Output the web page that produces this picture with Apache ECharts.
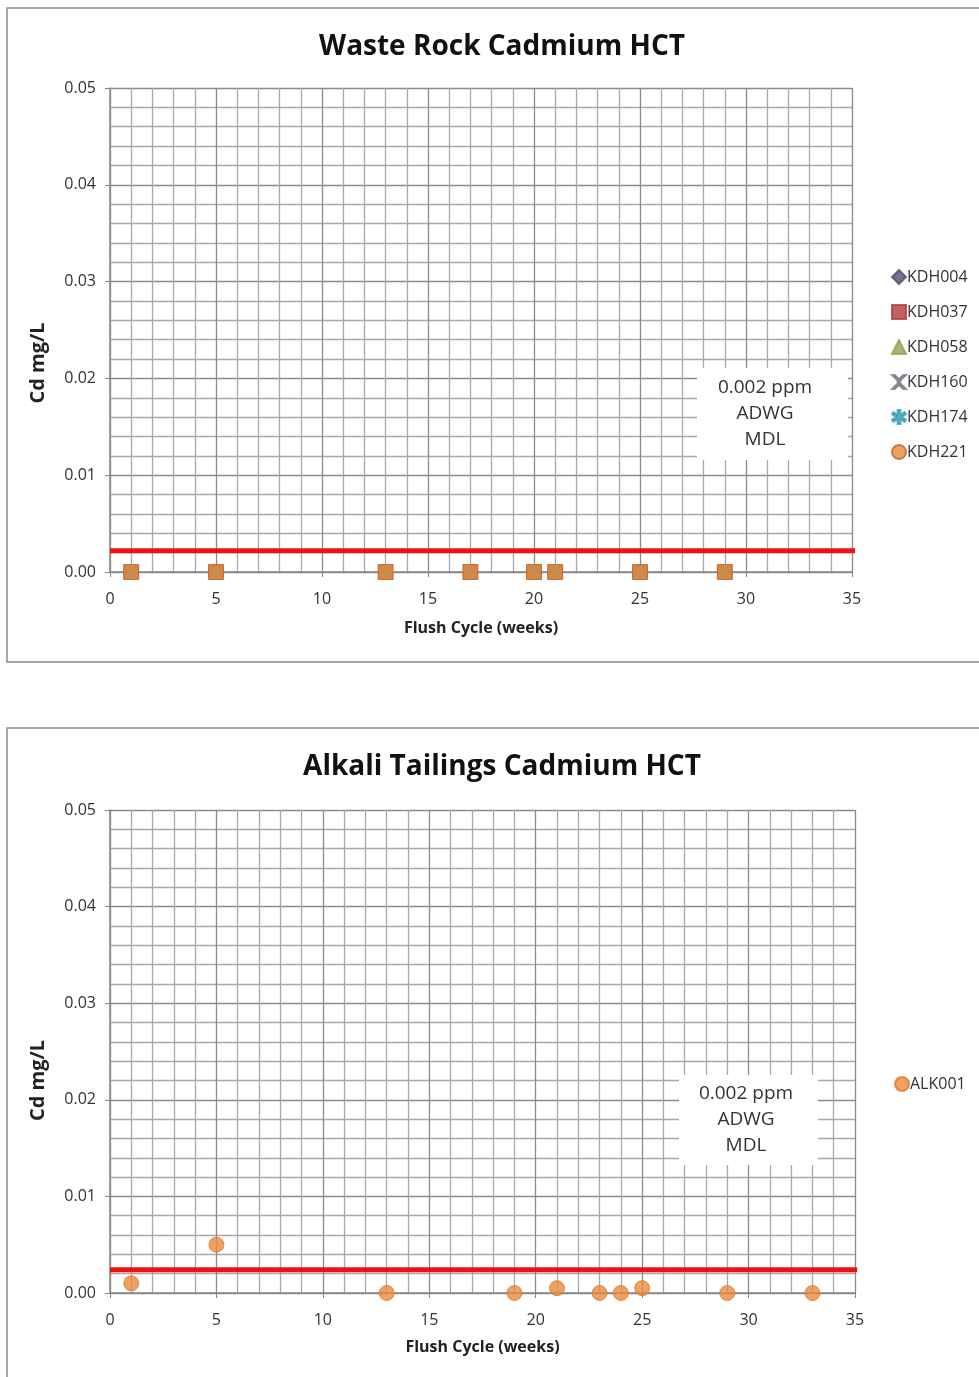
<!DOCTYPE html>
<html>
<head>
<meta charset="utf-8">
<script src="https://cdn.jsdelivr.net/npm/echarts@6/dist/echarts.min.js"></script>
<style>
  html, body { margin: 0; padding: 0; background: #fff; }
  #hct-charts { width: 979px; height: 1377px; }
</style>
</head>
<body>
<div id="hct-charts"></div>
<script>
// waste rock samples (all read at 0 mg/L)
var wasteWeeks = [1, 5, 13, 17, 20, 21, 25, 29];
var wasteValues = [0, 0, 0, 0, 0, 0, 0, 0];
var wasteNames = ["KDH004", "KDH037", "KDH058", "KDH160", "KDH174", "KDH221"];

// alkali tailings
var alkWeeks = [1, 5, 13, 19, 21, 23, 24, 25, 29, 33];
var alkValues = [0.001, 0.005, 0, 0, 0.0005, 0, 0, 0.0005, 0, 0];

// ADWG MDL reference line as drawn
var mdlTop = [[0, 0.0022], [35.3, 0.0022]];
var mdlBottom = [[0, 0.0024], [35.1, 0.0024]];

var xTicks = [0, 5, 10, 15, 20, 25, 30, 35];

var font = "Open Sans";
var xPath = "path://M0,0 L2,0 L5,3 L8,0 L10,0 L6,4 L6,6 L10,10 L8,10 L5,7 L2,10 L0,10 L4,6 L4,4 Z";
var starPath = "path://M4,0 L6,0 L6,3.5 L9,1.5 L10,3 L7,5 L10,7 L9,8.5 L6,6.5 L6,10 L4,10 L4,6.5 L1,8.5 L0,7 L3,5 L0,3 L1,1.5 L4,3.5 Z";
var wasteStyle = [
  { symbol: "diamond", color: "#4d4f6e", size: 12 },
  { symbol: "rect", color: "#b23b3b", size: 14 },
  { symbol: "triangle", color: "#8ea553", size: 12 },
  { symbol: xPath, color: "#7a7a8a", size: 11 },
  { symbol: starPath, color: "#3a9fb4", size: 11 },
  { symbol: "rect", color: "#e8893c", size: 15 }
];

function wasteData() {
  return wasteWeeks.map(function (w, i) { return [w, wasteValues[i]]; });
}

function xAxisOpt(gridIndex, gap) {
  return {
    type: "value", gridIndex: gridIndex, min: 0, max: 35, interval: 5,
    name: "Flush Cycle (weeks)", nameLocation: "middle", nameGap: gap,
    nameTextStyle: { fontFamily: font, fontWeight: "bold", fontSize: 16, color: "#222" },
    axisLine: { show: true, lineStyle: { color: "#888", width: 1.5 } },
    axisTick: { show: true, length: 5, lineStyle: { color: "#888" } },
    axisLabel: { fontFamily: font, fontSize: 16, color: "#333", margin: 19,
      formatter: function (v) { return xTicks.indexOf(v) >= 0 ? String(v) : ""; } },
    splitLine: { show: true, lineStyle: { color: "#8c8c8c", width: 1.3 } },
    minorTick: { show: true, splitNumber: 5, length: 0 },
    minorSplitLine: { show: true, lineStyle: { color: "#a8a8a8", width: 1.3 } }
  };
}

function yAxisOpt(gridIndex, shift) {
  return {
    type: "value", gridIndex: gridIndex, min: 0, max: 0.05, interval: 0.01,
    name: "Cd mg/L", nameLocation: "middle", nameGap: 62,
    nameTextStyle: { fontFamily: font, fontWeight: "bold", fontSize: 20, color: "#222",
      padding: [0, shift, 0, 0] },
    axisLine: { show: true, lineStyle: { color: "#888", width: 1.5 } },
    axisTick: { show: true, length: 5, lineStyle: { color: "#888" } },
    axisLabel: { fontFamily: font, fontSize: 16, color: "#333", margin: 14,
      formatter: function (v) { return v.toFixed(2); } },
    splitLine: { show: true, lineStyle: { color: "#8c8c8c", width: 1.3 } },
    minorTick: { show: true, splitNumber: 5, length: 0 },
    minorSplitLine: { show: true, lineStyle: { color: "#a8a8a8", width: 1.3 } }
  };
}

function noteBox(x, y, w, h, textX) {
  return {
    type: "group", left: x, top: y,
    children: [
      { type: "rect", z: 100, shape: { x: 0, y: 0, width: w, height: h },
        style: { fill: "#fff" } },
      { type: "text", z: 101, x: textX, y: h / 2,
        style: { text: "0.002 ppm\nADWG\nMDL", align: "center", verticalAlign: "middle",
          fontFamily: font, fontSize: 19, lineHeight: 26, fill: "#333" } }
    ]
  };
}

var series = [];
wasteNames.forEach(function (name, i) {
  var st = wasteStyle[i];
  series.push({
    name: name, type: "scatter", xAxisIndex: 0, yAxisIndex: 0,
    symbol: st.symbol, symbolSize: st.size, z: 3 + i,
    itemStyle: { color: st.color, borderColor: i === 5 ? "#b86a2a" : st.color, borderWidth: 1 },
    data: wasteData()
  });
});
series.push({
  name: "MDL1", type: "line", xAxisIndex: 0, yAxisIndex: 0, clip: false,
  symbol: "none", lineStyle: { color: "#ee1111", width: 5 }, z: 2, silent: true,
  data: mdlTop
});
series.push({
  name: "ALK001", type: "scatter", xAxisIndex: 1, yAxisIndex: 1,
  symbol: "circle", symbolSize: 15, z: 5,
  itemStyle: { color: "#e8893c", borderColor: "#d9792c", borderWidth: 1 },
  data: alkWeeks.map(function (w, i) { return [w, alkValues[i]]; })
});
series.push({
  name: "MDL2", type: "line", xAxisIndex: 1, yAxisIndex: 1, clip: false,
  symbol: "none", lineStyle: { color: "#ee1111", width: 5 }, z: 2, silent: true,
  data: mdlBottom
});

var chart = echarts.init(document.getElementById("hct-charts"));
chart.setOption({
  animation: false,
  backgroundColor: "#fff",
  title: [
    { text: "Waste Rock Cadmium HCT", left: 497, top: 28, textAlign: "center",
      textStyle: { fontFamily: font, fontWeight: "bold", fontSize: 28, color: "#111" } },
    { text: "Alkali Tailings Cadmium HCT", left: 497, top: 748, textAlign: "center",
      textStyle: { fontFamily: font, fontWeight: "bold", fontSize: 28, color: "#111" } }
  ],
  legend: [
    { orient: "vertical", left: 886, top: 264, itemGap: 19, itemWidth: 14, itemHeight: 14,
      textStyle: { fontFamily: font, fontSize: 16, color: "#333", padding: [0, 0, 0, -4] },
      data: wasteNames.map(function (n, i) {
        return { name: n, icon: i === 5 ? "circle" : wasteStyle[i].symbol };
      }) },
    { orient: "vertical", left: 889, top: 1071, itemWidth: 14, itemHeight: 14,
      textStyle: { fontFamily: font, fontSize: 16, color: "#333", padding: [0, 0, 0, -4] },
      data: ["ALK001"] }
  ],
  grid: [
    { left: 110, right: 127, top: 88, height: 484 },
    { left: 110, right: 124, top: 810, height: 483 }
  ],
  xAxis: [xAxisOpt(0, 48), xAxisOpt(1, 46)],
  yAxis: [yAxisOpt(0, 66), yAxisOpt(1, 58)],
  series: series,
  graphic: [
    { type: "rect", shape: { x: 7, y: 8, width: 990, height: 654 },
      style: { fill: "none", stroke: "#8a8a8a", lineWidth: 1.5 }, silent: true },
    { type: "rect", shape: { x: 7, y: 728, width: 990, height: 700 },
      style: { fill: "none", stroke: "#8a8a8a", lineWidth: 1.5 }, silent: true },
    noteBox(697, 368, 151, 92, 68),
    noteBox(679, 1075, 139, 90, 67)
  ]
});
</script>
</body>
</html>
